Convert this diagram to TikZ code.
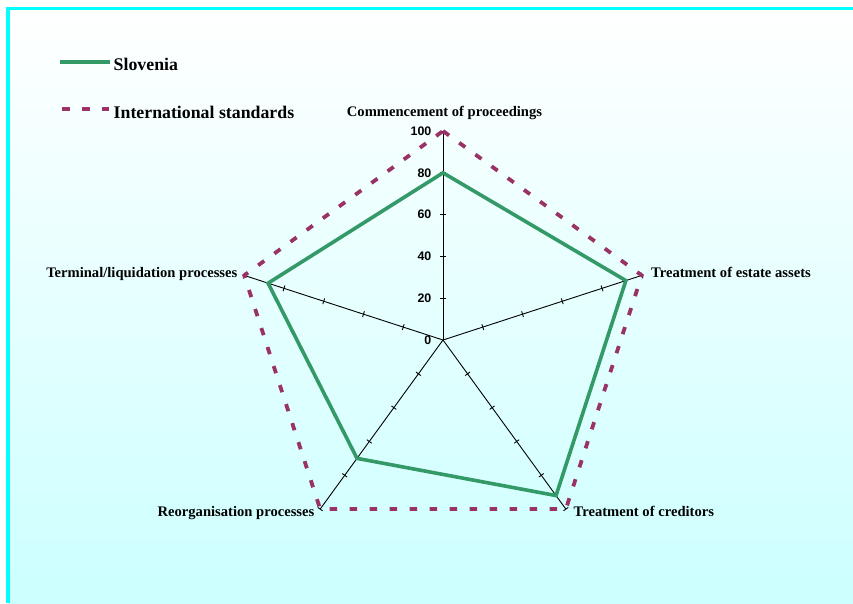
\documentclass[tikz,border=0pt]{standalone}
\usepackage{fontspec}
\setmainfont{Liberation Serif}
\newfontfamily\arialf{Liberation Sans}
\usetikzlibrary{calc}
\definecolor{slo}{RGB}{51,153,102}
\definecolor{intl}{RGB}{153,51,102}
\definecolor{bordercyan}{RGB}{0,255,255}
\definecolor{bgcyan}{RGB}{204,255,255}
\begin{document}
\begin{tikzpicture}[x=1pt,y=-1pt,
 axisline/.style={black, line width=0.9pt},
 tickmark/.style={black, line width=0.9pt},
 sloline/.style={slo, line width=3.6pt, line join=miter},
 intline/.style={intl, line width=3.8pt, dash pattern=on 7.5pt off 12.5pt},
 catlabel/.style={font=\bfseries\fontsize{14.6}{16}\selectfont, inner sep=0pt},
 vallabel/.style={font=\arialf\bfseries\fontsize{12.4}{14}\selectfont, anchor=east, inner sep=0pt},
 legtext/.style={font=\bfseries\fontsize{17.8}{20}\selectfont, anchor=base west, inner sep=0pt}]

\useasboundingbox (0,0) rectangle (853,603);
\fill[white] (0,0) rectangle (853,603);
\shade[top color=white, bottom color=bgcyan] (8,8.5) rectangle (853,603);
\draw[bordercyan, line width=3.75pt] (8,603) -- (8,8.5) -- (853,8.5);

% legend
\coordinate (l1a) at (60,62);
\coordinate (l1b) at (110,62);
\coordinate (l2a) at (62,109);
\coordinate (l2b) at (109,109);
\draw[sloline] (l1a) -- (l1b);
\draw[intline] (l2a) -- (l2b);
\node[legtext] (legslo) at (113.5,70.5) {Slovenia};
\node[legtext] (legint) at (113.5,118) {International standards};

% radar axes
\coordinate (O) at (443,340);
\foreach \i/\a in {1/90,2/18,3/-54,4/-126,5/162}
  \coordinate (a\i) at ({443+209*cos(\a)},{340-209*sin(\a)});
\foreach \i in {1,...,5}
  \draw[axisline] (O) -- (a\i);
\foreach \i/\a in {1/90,2/18,3/-54,4/-126,5/162}
  \foreach \k in {1,...,5}
    \draw[tickmark] ({443+41.8*\k*cos(\a)+3*sin(\a)},{340-41.8*\k*sin(\a)+3*cos(\a)})
                 -- ({443+41.8*\k*cos(\a)-3*sin(\a)},{340-41.8*\k*sin(\a)-3*cos(\a)});

% value labels
\foreach \v in {0,20,40,60,80,100}
  \node[vallabel] (val\v) at (431.5,{340-2.09*\v}) {\v};

% series
\foreach \i/\a/\v in {1/90/80,2/18/92,3/-54/92,4/-126/70,5/162/88}
  \coordinate (s\i) at ({443+2.09*\v*cos(\a)},{340-2.09*\v*sin(\a)});
\draw[sloline] (s1) -- (s2) -- (s3) -- (s4) -- (s5) -- cycle;
\draw[intline] (a1) -- (a2) -- (a3) -- (a4) -- (a5) -- cycle;

% category labels
\node[catlabel, anchor=base] (cat1) at (444.5,116) {Commencement of proceedings};
\node[catlabel, anchor=base west] (cat2) at (651,277) {Treatment of estate assets};
\node[catlabel, anchor=base west] (cat3) at (573.5,516) {Treatment of creditors};
\node[catlabel, anchor=base east] (cat4) at (314.5,516) {Reorganisation processes};
\node[catlabel, anchor=base east] (cat5) at (237.5,277) {Terminal/liquidation processes};
\end{tikzpicture}
\end{document}
